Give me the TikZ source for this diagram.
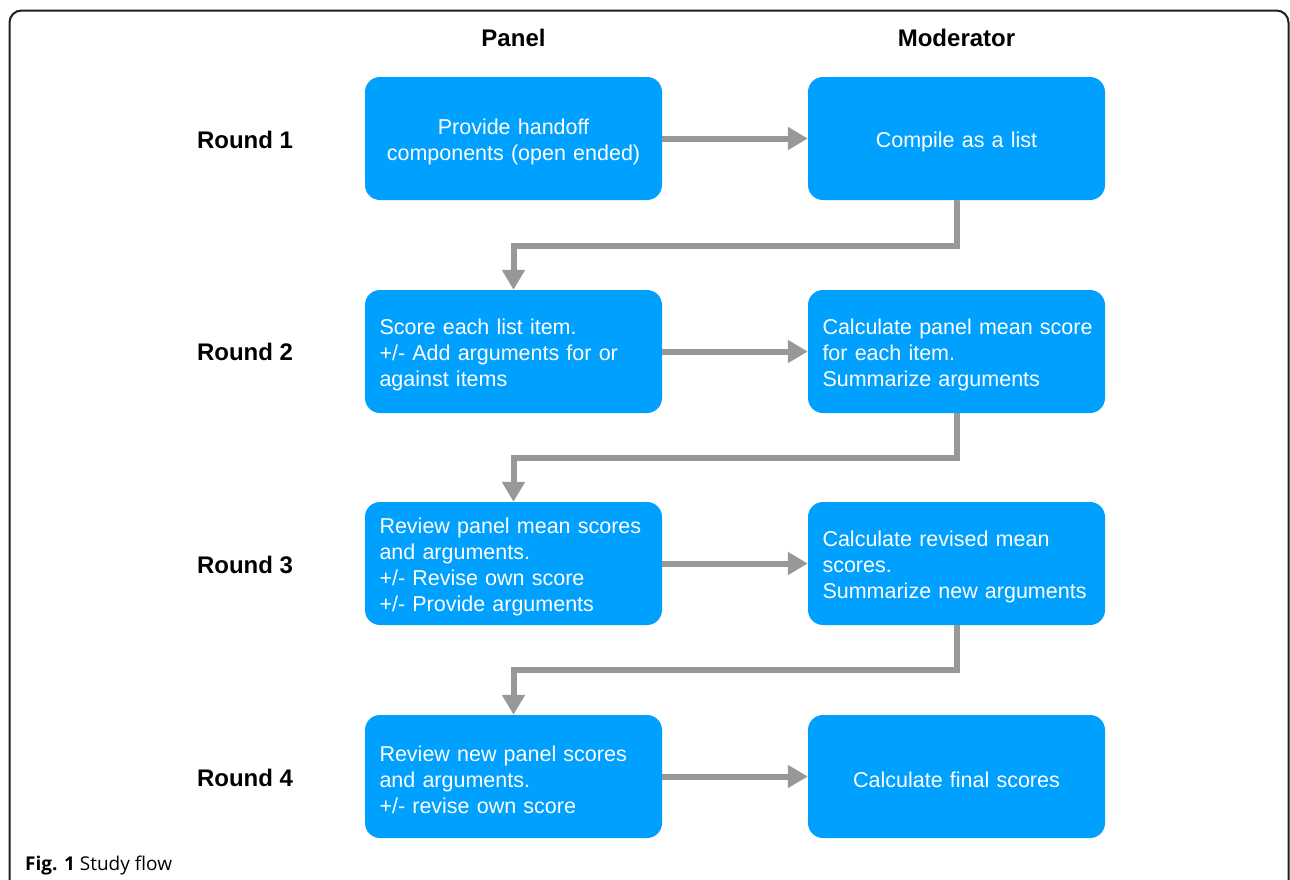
\documentclass[tikz,border=0pt]{standalone}
\usepackage{fontspec}
\setmainfont{Liberation Sans}
\newfontfamily\capfont{Open Sans}
\usetikzlibrary{arrows.meta,calc}
\definecolor{boxblue}{RGB}{0,160,255}
\definecolor{arrgray}{RGB}{152,152,152}
\definecolor{framecol}{RGB}{30,30,30}
\newcommand\flowbox[4]{%
  \node[boxshape] (#1) at (#2) {};
  \node[#3] (#1t) at ($(#1.center)+(0,3)$) {#4};}
\begin{document}
\begin{tikzpicture}[x=1pt,y=-1pt,
  boxshape/.style={rectangle, rounded corners=15pt, fill=boxblue,
    minimum width=297pt, minimum height=123pt, inner sep=0pt},
  boxtext/.style={text=white, text width=268pt, inner sep=0pt,
    font=\fontsize{21.5}{26}\selectfont},
  ltext/.style={boxtext, align=left},
  ctext/.style={boxtext, align=center},
  conn/.style={draw=arrgray, line width=6pt, -{Triangle[length=20pt,width=22pt]}},
  heading/.style={font=\bfseries\fontsize{24}{28}\selectfont, inner sep=0pt}]
\useasboundingbox (0,0) rectangle (1290,879);
% frame
\draw[line width=2pt, draw=framecol, rounded corners=12pt]
  (9.5,900) -- (9.5,10.5) -- (1288.5,10.5) -- (1288.5,900);
% headings
\node[heading] (hp) at (513.5,38) {Panel};
\node[heading] (hm) at (956.5,38) {Moderator};
\node[heading] (r1) at (245,140) {Round 1};
\node[heading] (r2) at (245,352) {Round 2};
\node[heading] (r3) at (245,565) {Round 3};
\node[heading] (r4) at (245,778) {Round 4};
% boxes
\flowbox{p1}{513.5,138.5}{ctext}{Provide handoff\\components (open ended)}
\flowbox{m1}{956.5,138.5}{ctext}{Compile as a list}
\flowbox{p2}{513.5,351.5}{ltext}{Score each list item.\\+/- Add arguments for or\\against items}
\flowbox{m2}{956.5,351.5}{ltext}{\mbox{Calculate panel mean score}\\for each item.\\Summarize arguments}
\flowbox{p3}{513.5,563.5}{ltext}{Review panel mean scores\\and arguments.\\+/- Revise own score\\+/- Provide arguments}
\flowbox{m3}{956.5,563.5}{ltext}{Calculate revised mean\\scores.\\Summarize new arguments}
\flowbox{p4}{513.5,776.5}{ltext}{Review new panel scores\\and arguments.\\+/- revise own score}
\flowbox{m4}{956.5,776.5}{ctext}{Calculate final scores}
% horizontal arrows
\draw[conn] (p1.east) -- (m1.west);
\draw[conn] (p2.east) -- (m2.west);
\draw[conn] (p3.east) -- (m3.west);
\draw[conn] (p4.east) -- (m4.west);
% elbow connectors
\coordinate (j12) at (0,245.5);
\coordinate (j23) at (0,457.5);
\coordinate (j34) at (0,670);
\draw[conn] (m1.south) -- (m1.south |- j12) -| (p2.north);
\draw[conn] (m2.south) -- (m2.south |- j23) -| (p3.north);
\draw[conn] (m3.south) -- (m3.south |- j34) -| (p4.north);
% caption
\node[anchor=base west, inner sep=0pt] (cap) at (25,870)
  {\capfont\fontsize{19}{23}\selectfont\textbf{Fig. 1} Study flow};
\end{tikzpicture}
\end{document}
